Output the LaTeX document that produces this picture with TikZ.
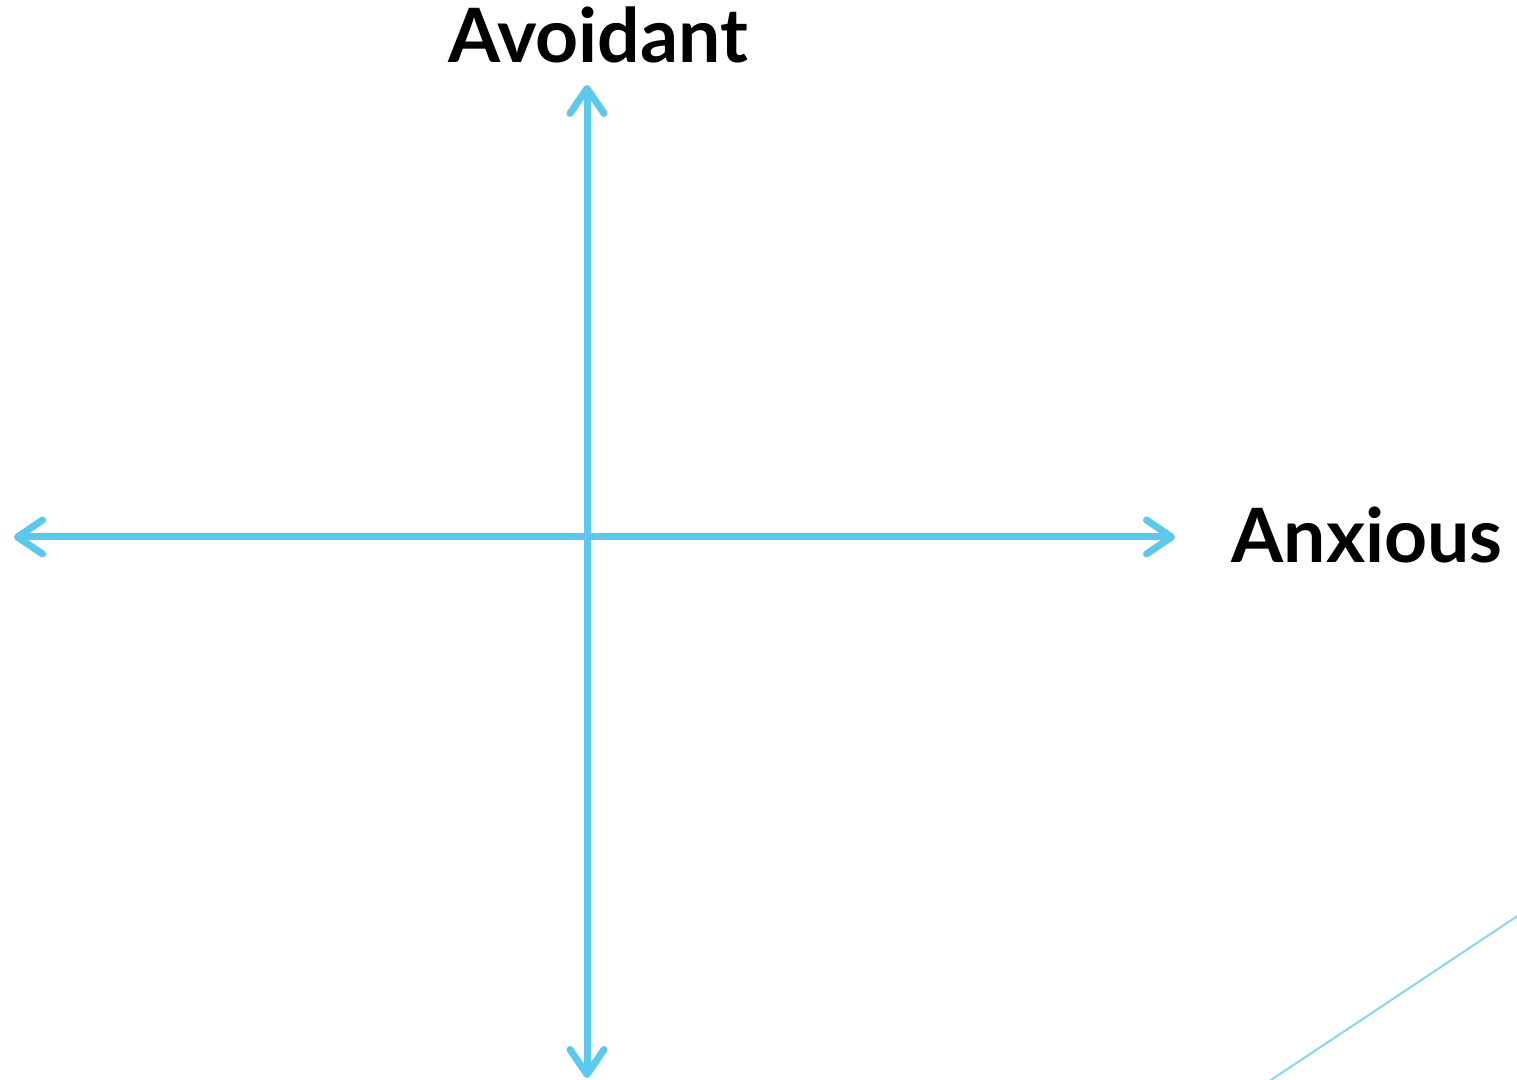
\documentclass[tikz,border=0pt]{standalone}
\usepackage{fontspec}
\setmainfont{Lato}
\usetikzlibrary{arrows.meta}
\definecolor{axisblue}{HTML}{5CC8EE}
\definecolor{thinblue}{HTML}{8AD6F2}
\begin{document}
\begin{tikzpicture}[x=0.5pt,y=-0.5pt,
  axis/.style={draw=axisblue,line width=3.5pt,line cap=round,
    {Straight Barb[round,length=12.5pt,width=17pt]}-{Straight Barb[round,length=12.5pt,width=17pt]}},
  lbl/.style={font=\fontsize{37.5}{40}\selectfont\bfseries,inner sep=0pt,anchor=base}]
\useasboundingbox (0,0) rectangle (1517,1080);
\coordinate (top) at (587,85);
\coordinate (bot) at (587,1078);
\coordinate (lft) at (14,537);
\coordinate (rgt) at (1175,537);
\coordinate (d1) at (1268,1082);
\coordinate (d2) at (1519,915);
\draw[axis] (bot) -- (top);
\draw[axis] (lft) -- (rgt);
\node[lbl] (avoid) at (598,63) {Avoidant};
\node[lbl] (anx) at (1367,563) {Anxious};
\draw[thinblue,line width=1pt] (d1) -- (d2);
\end{tikzpicture}
\end{document}
